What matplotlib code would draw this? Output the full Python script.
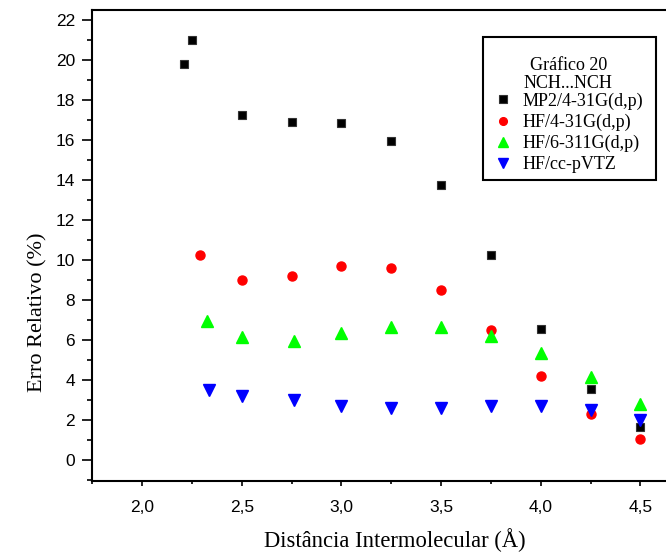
import numpy as np
import matplotlib
matplotlib.use("Agg")
import matplotlib.pyplot as plt
from matplotlib.patches import Rectangle
from matplotlib.ticker import MultipleLocator, FuncFormatter

# data
x_mp2 = [2.21, 2.25, 2.5, 2.75, 3.0, 3.25, 3.5, 3.75, 4.0, 4.25, 4.5]
y_mp2 = [19.8, 21.0, 17.23, 16.9, 16.85, 15.93, 13.73, 10.23, 6.53, 3.53, 1.63]

x_hf431 = [2.29, 2.5, 2.75, 3.0, 3.25, 3.5, 3.75, 4.0, 4.25, 4.5]
y_hf431 = [10.23, 8.97, 9.18, 9.68, 9.58, 8.48, 6.5, 4.18, 2.27, 1.03]

x_hf6311 = [2.325, 2.5, 2.76, 3.0, 3.25, 3.5, 3.75, 4.0, 4.25, 4.5]
y_hf6311 = [6.93, 6.13, 5.93, 6.33, 6.63, 6.63, 6.21, 5.33, 4.13, 2.8]

x_ccpvtz = [2.335, 2.5, 2.76, 3.0, 3.25, 3.5, 3.75, 4.0, 4.25, 4.5]
y_ccpvtz = [3.47, 3.17, 2.97, 2.67, 2.57, 2.57, 2.67, 2.67, 2.47, 2.0]

labels = ["MP2/4-31G(d,p)", "HF/4-31G(d,p)", "HF/6-311G(d,p)", "HF/cc-pVTZ"]

serif = "Liberation Serif"
sans = "Liberation Sans"
W, H = 666, 552

fig = plt.figure(figsize=(6.66, 5.52), dpi=100)
ax = fig.add_axes([92.3/W, 1-480.7/H, (W-92.3)/W, 470.7/H])

ax.plot(x_mp2, y_mp2, ls="none", marker="s", ms=6.2, mfc="black", mec="#333333", mew=0.8, label=labels[0])
ax.plot(x_hf431, y_hf431, ls="none", marker="o", ms=6.5, color="red", mec="red", label=labels[1])
ax.plot(x_hf6311, y_hf6311, ls="none", marker="^", ms=9, color="#00ff00", mec="#00ff00", label=labels[2])
ax.plot(x_ccpvtz, y_ccpvtz, ls="none", marker="v", ms=9, color="blue", mec="blue", label=labels[3])

ax.set_xlim(1.75, 1.75 + (W-92.3)/199.3)
ax.set_ylim(-1.05, 22.5)

ax.xaxis.set_major_locator(MultipleLocator(0.5))
ax.xaxis.set_minor_locator(MultipleLocator(0.25))
ax.yaxis.set_major_locator(MultipleLocator(2))
ax.yaxis.set_minor_locator(MultipleLocator(1))
ax.xaxis.set_major_formatter(FuncFormatter(lambda v, p: ("%.1f" % v).replace(".", ",")))
ax.yaxis.set_major_formatter(FuncFormatter(lambda v, p: "%d" % v))

ax.spines["right"].set_visible(False)
for s in ["left", "bottom", "top"]:
    ax.spines[s].set_linewidth(1.5)

ax.tick_params(axis="y", which="major", direction="out", length=7.5, width=1.2, pad=5, labelsize=12.5)
ax.tick_params(axis="y", which="minor", direction="out", length=3.5, width=1.2)
ax.tick_params(axis="x", which="major", direction="out", length=3.8, width=1.2, pad=10, labelsize=12.5)
ax.tick_params(axis="x", which="minor", direction="out", length=2.5, width=1.2)
for t in ax.get_xticklabels() + ax.get_yticklabels():
    t.set_fontfamily(sans)

ax.set_xlabel("Distância Intermolecular (Å)", fontsize=16.3, family=serif)
ax.set_ylabel("Erro Relativo (%)", fontsize=16, family=serif)
ax.xaxis.set_label_coords(0.528, -0.101)
ax.yaxis.set_label_coords(-0.078, 0.358)

# legend box frame
fig.patches.append(Rectangle((482.7/W, 1-180/H), (655.7-482.7)/W, (180-37.3)/H,
                             transform=fig.transFigure, fill=False, ec="black", lw=1.5))

leg = ax.legend(title="Gráfico 20\nNCH...NCH", loc="upper left",
                bbox_to_anchor=(493/W, 1-56.5/H), bbox_transform=fig.transFigure,
                prop={"family": serif, "size": 13}, title_fontproperties={"family": serif, "size": 13},
                frameon=False, borderaxespad=0,
                handletextpad=0.55, labelspacing=0.22, borderpad=0, handlelength=1.1,
                markerscale=0.85)
leg.get_title().set_multialignment("center")
leg.get_title().set_linespacing(1.15)
leg._legend_box.sep = 0

fig.savefig("out.png", dpi=100)
